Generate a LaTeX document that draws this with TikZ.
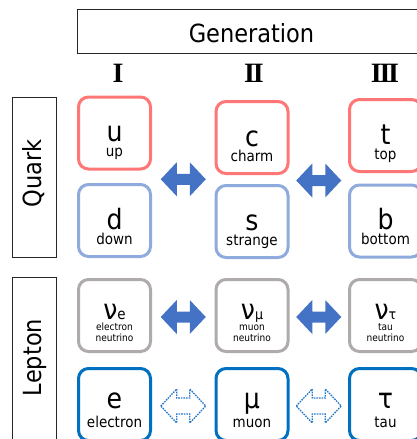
\documentclass[tikz,border=0pt]{standalone}
\usepackage{fontspec}
\setmainfont{DejaVu Sans Condensed}
\newfontfamily\numfont{Liberation Serif}
\usetikzlibrary{calc}

\definecolor{upred}{RGB}{255,118,118}
\definecolor{downblue}{RGB}{143,170,220}
\definecolor{nugray}{RGB}{175,171,171}
\definecolor{leptonblue}{RGB}{0,112,192}
\definecolor{swapblue}{RGB}{68,114,196}
\definecolor{dotblue}{RGB}{40,120,200}

% horizontal two-headed arrow centred on a named coordinate
\newcommand\solidswap[1]{%
  \fill[swapblue] ($(#1)+(-22.5,0)$) -- ++(16,-17) -- ++(0,11.5) -- ++(13,0)
    -- ++(0,-11.5) -- ++(16,17) -- ++(-16,17) -- ++(0,-11.5) -- ++(-13,0)
    -- ++(0,11.5) -- cycle;}
\newcommand\dottedswap[1]{%
  \draw[dotblue, line width=1.3pt, dash pattern=on 1.6pt off 1pt, fill=white]
    ($(#1)+(-22.5,0)$) -- ++(16,-17) -- ++(0,9) -- ++(13,0)
    -- ++(0,-9) -- ++(16,17) -- ++(-16,17) -- ++(0,-9) -- ++(-13,0)
    -- ++(0,9) -- cycle;}

\begin{document}
\begin{tikzpicture}[x=1pt,y=-1pt,
  particle/.style={draw, line width=3pt, rounded corners=10pt,
    minimum width=72pt, minimum height=72pt, inner sep=0pt, fill=white},
  upq/.style={particle, draw=upred},
  downq/.style={particle, draw=downblue},
  neutrino/.style={particle, draw=nugray},
  charged/.style={particle, draw=leptonblue},
  sym/.style={anchor=base, inner sep=0pt, font=\fontsize{28}{28}\selectfont},
  lbl/.style={anchor=base, inner sep=0pt, font=\fontsize{15}{15}\selectfont},
  small/.style={anchor=base, inner sep=0pt, font=\fontsize{10}{10}\selectfont},
  frame/.style={draw=black!85, line width=1pt, inner sep=0pt},
  head/.style={anchor=base, inner sep=0pt, font=\fontsize{25}{25}\selectfont},
  roman/.style={anchor=base, inner sep=0pt, font=\numfont\bfseries\fontsize{28}{28}\selectfont},
]
\useasboundingbox (0,0) rectangle (417,439);
\clip (0,0) rectangle (417,439);

% header
\node[frame, minimum width=349pt, minimum height=44pt] (gen) at (251.5,31) {};
\node[head] (gentext) at (251.5,42) {Generation};
\node[roman] (g1) at (118,82) {I};
\node[roman] (g2) at (254,82) {I\kern-0.08em I};
\node[roman] (g3) at (385,82) {I\kern-0.08em I\kern-0.08em I};

% family frames
\node[frame, minimum width=44pt, minimum height=160pt] (quark) at (34,177) {};
\node[head, rotate=90] (quarktext) at (41,173.5) {Quark};
\node[frame, minimum width=44pt, minimum height=166pt] (lepton) at (34,360) {};
\node[head, rotate=90] (leptontext) at (41,357.5) {Lepton};

% quarks
\node[upq] (u) at (114.5,133) {};
\node[upq] (c) at (252,137.5) {};
\node[upq] (t) at (385.5,135.5) {};
\node[downq] (d) at (114.5,220.5) {};
\node[downq] (s) at (252,221.5) {};
\node[downq] (b) at (385.5,221) {};

\node[sym] at ($(u.north)+(0,46)$) {u};
\node[lbl] at ($(u.north)+(0,61)$) {up};
\node[sym] at ($(c.north)+(0,46)$) {c};
\node[lbl] at ($(c.north)+(0,61)$) {charm};
\node[sym] at ($(t.north)+(0,46)$) {t};
\node[lbl] at ($(t.north)+(0,61)$) {top};
\node[sym] at ($(d.north)+(0,46)$) {d};
\node[lbl] at ($(d.north)+(0,61)$) {down};
\node[sym] at ($(s.north)+(0,46)$) {s};
\node[lbl] at ($(s.north)+(0,61)$) {strange};
\node[sym] at ($(b.north)+(0,46)$) {b};
\node[lbl] at ($(b.north)+(0,61)$) {bottom};

% leptons
\node[neutrino] (ne) at (114.5,315.5) {};
\node[neutrino] (nm) at (252,315.5) {};
\node[neutrino] (nt) at (385.5,315.5) {};
\node[charged] (e) at (114.5,404.5) {};
\node[charged] (m) at (252,404.5) {};
\node[charged] (ta) at (385.5,404.5) {};

\node[sym] at ($(ne.north)+(0,41.5)$) {ν\fontsize{15}{15}\selectfont e};
\node[small] at ($(ne.north)+(0,52)$) {electron};
\node[small] at ($(ne.north)+(0,63)$) {neutrino};
\node[sym] at ($(nm.north)+(0,41.5)$) {ν\fontsize{14}{14}\selectfont μ};
\node[small] at ($(nm.north)+(0,52)$) {muon};
\node[small] at ($(nm.north)+(0,63)$) {neutrino};
\node[sym] at ($(nt.north)+(0,41.5)$) {ν\fontsize{14}{14}\selectfont τ};
\node[small] at ($(nt.north)+(0,52)$) {tau};
\node[small] at ($(nt.north)+(0,63)$) {neutrino};

\node[sym] at ($(e.north)+(0,41.5)$) {e};
\node[lbl] at ($(e.north)+(0,60.5)$) {electron};
\node[sym] at ($(m.north)+(0,41.5)$) {μ};
\node[lbl] at ($(m.north)+(0,60.5)$) {muon};
\node[sym] at ($(ta.north)+(0,41.5)$) {τ};
\node[lbl] at ($(ta.north)+(0,60.5)$) {tau};

% generation changes between neighbouring columns
\coordinate (q12) at ($(u.east)!0.5!(c.west)+(0,44)$);
\coordinate (q23) at ($(c.east)!0.5!(t.west)+(0,44)$);
\coordinate (n12) at ($(ne.east)!0.5!(nm.west)+(0,1.5)$);
\coordinate (n23) at ($(nm.east)!0.5!(nt.west)+(0,1.5)$);
\coordinate (l12) at ($(e.east)!0.5!(m.west)+(0,1.5)$);
\coordinate (l23) at ($(m.east)!0.5!(ta.west)+(0,1.5)$);
\solidswap{q12}
\solidswap{q23}
\solidswap{n12}
\solidswap{n23}
\dottedswap{l12}
\dottedswap{l23}
\end{tikzpicture}
\end{document}
